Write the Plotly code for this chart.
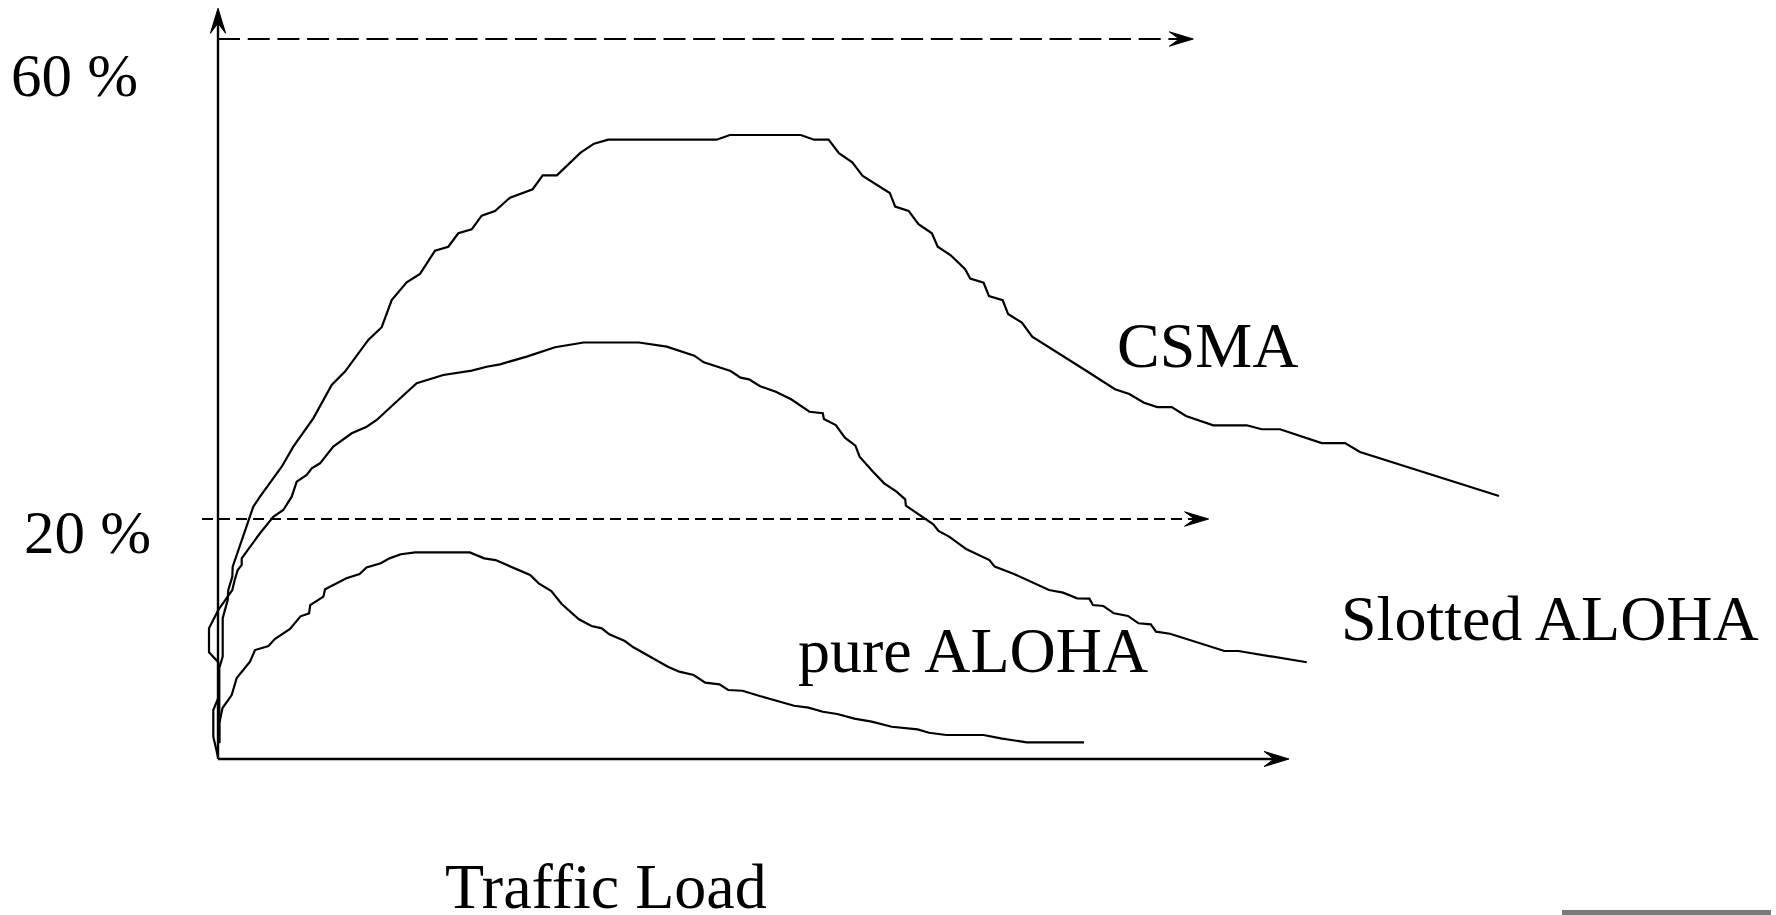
import plotly.graph_objects as go

# ---------------- data (x: traffic load, arbitrary units; y: throughput %) ----------------
csma_load = [0.013, 0.013, 0.047, 0.047, 0.097, 0.103, 0.143, 0.147, 0.353, 0.42, 0.637, 0.753,
             0.953, 1.137, 1.27, 1.503, 1.637, 1.737, 1.887, 2.02, 2.17, 2.303, 2.403, 2.537,
             2.637, 2.77, 2.92, 3.147, 3.247, 3.389, 3.626, 3.76, 3.902, 4.985, 5.119, 5.827,
             5.961, 6.106, 6.209, 6.343, 6.447, 6.718, 6.772, 6.906, 7.005, 7.139, 7.197, 7.327,
             7.472, 7.522, 7.656, 7.71, 7.847, 7.901, 8.039, 8.142, 8.67, 8.97, 9.113, 9.26,
             9.393, 9.537, 9.68, 9.953, 10.287, 10.437, 10.62, 11.037, 11.27, 11.42, 12.81]
csma_thru = [1.33, 7.58, 8.53, 11.73, 13.25, 14.08, 15.19, 16.03, 21.03, 21.86, 24.36, 26.03,
             28.39, 31.17, 32.28, 34.92, 35.98, 38.25, 39.72, 40.42, 42.36, 42.69, 43.81, 44.14,
             45.28, 45.67, 46.78, 47.48, 48.64, 48.64, 50.53, 51.28, 51.61, 51.61, 52.0, 52.0,
             51.61, 51.61, 50.48, 49.73, 48.58, 47.17, 46.03, 45.67, 44.56, 43.81, 42.69, 41.98,
             40.81, 40.03, 39.69, 38.58, 38.23, 37.08, 36.36, 35.19, 32.42, 30.81, 30.42, 29.69,
             29.33, 29.33, 28.58, 27.81, 27.81, 27.48, 27.48, 26.33, 26.33, 25.58, 21.92]

slotted_load = [0.003, -0.047, -0.047, 0.003, 0.003, -0.09, -0.09, 0.003, 0.097, 0.143, 0.167,
                0.197, 0.237, 0.237, 0.42, 0.553, 0.653, 0.737, 0.787, 0.887, 0.937, 1.02, 1.153,
                1.337, 1.487, 1.587, 1.803, 1.987, 2.253, 2.537, 2.687, 2.82, 3.087, 3.37, 3.655,
                4.21, 4.487, 4.763, 4.858, 5.126, 5.226, 5.31, 5.417, 5.578, 5.731, 5.876, 5.915,
                6.048, 6.059, 6.178, 6.269, 6.374, 6.416, 6.55, 6.662, 6.785, 6.872, 6.879, 7.03,
                7.153, 7.205, 7.311, 7.486, 7.714, 7.767, 7.96, 8.31, 8.451, 8.591, 8.714, 8.749,
                8.854, 8.959, 9.1, 9.205, 9.328, 9.38, 9.52, 10.064, 10.204, 10.888]
slotted_thru = [0.06, 1.86, 4.08, 5.08, 8.06, 8.89, 10.89, 12.42, 13.53, 14.08, 14.92,
                15.75, 16.17, 16.73, 18.81, 20.19, 20.75, 21.86, 23.11, 23.67, 24.23, 24.64, 26.03,
                27.14, 27.69, 28.25, 29.92, 31.31, 32.0, 32.36, 32.69, 32.89, 33.53, 34.31, 34.71,
                34.71, 34.36, 33.61, 33.06, 32.33, 31.78, 31.64, 31.08, 30.61, 29.98, 29.17, 28.94,
                28.81, 28.33, 27.83, 26.78, 26.11, 25.19, 23.94, 22.97, 22.28, 21.64, 21.11, 20.28,
                19.56, 19.0, 18.53, 17.47, 16.58, 16.03, 15.42, 14.08, 13.86, 13.39, 13.36, 12.83,
                12.75, 12.14, 11.92, 11.31, 11.22, 10.61, 10.44, 9.0, 9.0, 8.06]

pure_load = [0.013, 0.013, 0.045, 0.137, 0.187, 0.32, 0.37, 0.505, 0.568, 0.72, 0.825, 0.911,
             0.922, 1.054, 1.071, 1.284, 1.416, 1.485, 1.628, 1.714, 1.829, 1.973, 2.518, 2.662,
             2.776, 2.92, 3.121, 3.207, 3.333, 3.437, 3.609, 3.735, 3.838, 3.913, 4.068, 4.154,
             4.326, 4.499, 4.613, 4.757, 4.872, 5.015, 5.101, 5.245, 5.417, 5.761, 5.905, 6.048,
             6.192, 6.364, 6.536, 6.737, 6.996, 7.11, 7.283, 7.656, 7.828, 8.086, 8.66]
pure_thru = [1.31, 2.97, 4.25, 5.33, 6.75, 8.11, 9.08, 9.42, 10.0, 10.83, 11.89, 12.14,
             12.83, 13.53, 14.14, 15.06, 15.42, 15.97, 16.31, 16.72, 17.06, 17.22, 17.22, 16.72,
             16.58, 16.03, 15.33, 14.64, 14.0, 12.92, 11.64, 11.08, 10.89, 10.39, 9.83, 9.31,
             8.53, 7.69, 7.28, 7.0, 6.36, 6.22, 5.75, 5.69, 5.25, 4.44, 4.28, 3.94,
             3.75, 3.36, 3.11, 2.69, 2.47, 2.19, 2.0, 2.0, 1.72, 1.39, 1.39]

ref_levels = [60, 20]                 # dashed reference levels (%)
ref_labels = ["60 %", "20 %"]
ref_line_ends = [(0.0, 9.753), (-0.16, 9.906)]
x_axis_end = 10.71
y_axis_end = 62.56
x_title = "Traffic Load"
series_labels = ["CSMA", "Slotted ALOHA", "pure ALOHA"]

# ---------------- layout / styling ----------------
W, H = 1776, 915
X_RANGE = [-2.18, 15.58]
Y_RANGE = [-13.0, 63.25]
FONT = "Liberation Serif, Times New Roman, serif"
FS = 64
FS_PCT = 61
INK = "black"

fig = go.Figure()
for xs, ys in [(csma_load, csma_thru), (slotted_load, slotted_thru), (pure_load, pure_thru)]:
    fig.add_trace(go.Scatter(x=xs, y=ys, mode="lines",
                             line=dict(color=INK, width=2.2),
                             hoverinfo="skip", showlegend=False))

shapes = []
# axes
shapes.append(dict(type="line", xref="x", yref="y", x0=0, y0=0, x1=x_axis_end - 0.12, y1=0,
                   line=dict(color=INK, width=2.4)))
shapes.append(dict(type="line", xref="x", yref="y", x0=0, y0=0, x1=0, y1=y_axis_end - 1.2,
                   line=dict(color=INK, width=2.4)))

def arrow_h(xa, ya, L=25, hw=7.6, notch=15):
    return dict(type="path", xref="x", yref="y", xsizemode="pixel", ysizemode="pixel",
                xanchor=xa, yanchor=ya,
                path=f"M0,0 L{-L},{hw} L{-notch},0 L{-L},{-hw} Z",
                fillcolor=INK, line=dict(color=INK, width=1))

def arrow_v(xa, ya, L=25, hw=7.6, notch=15):
    return dict(type="path", xref="x", yref="y", xsizemode="pixel", ysizemode="pixel",
                xanchor=xa, yanchor=ya,
                path=f"M0,0 L{hw},{-L} L0,{-notch} L{-hw},{-L} Z",
                fillcolor=INK, line=dict(color=INK, width=1))

shapes.append(arrow_h(x_axis_end, 0))
shapes.append(arrow_v(0, y_axis_end))

# dashed reference lines
dashes = ["22px,7.7px", "11px,6px"]
for lvl, (xa, xb), d in zip(ref_levels, ref_line_ends, dashes):
    shapes.append(dict(type="line", xref="x", yref="y", x0=xa, y0=lvl, x1=xb - 0.12, y1=lvl,
                       line=dict(color=INK, width=2.2, dash=d)))
    shapes.append(arrow_h(xb, lvl, L=24, hw=7.2, notch=14))

# grey bar at the bottom-right of the picture
shapes.append(dict(type="rect", xref="paper", yref="paper",
                   x0=1562 / W, x1=1771 / W, y0=0, y1=5 / H,
                   fillcolor="#7a7a7a", line=dict(width=0)))

annotations = []
label_pos = {
    "60 %": (-2.094, 56.99),
    "20 %": (-1.957, 18.91),
    "CSMA": (8.97, 34.47),
    "Slotted ALOHA": (11.21, 11.72),
    "pure ALOHA": (5.78, 9.05),
    "Traffic Load": (2.25, -10.6),
}
for txt in ref_labels + series_labels + [x_title]:
    x, y = label_pos[txt]
    size = FS_PCT if txt in ref_labels else FS
    annotations.append(dict(text=txt, x=x, y=y, xref="x", yref="y",
                            xanchor="left", yanchor="middle", showarrow=False,
                            font=dict(family=FONT, size=size, color=INK)))

fig.update_layout(
    width=W, height=H,
    margin=dict(l=0, r=0, t=0, b=0, pad=0),
    paper_bgcolor="white", plot_bgcolor="white",
    xaxis=dict(range=X_RANGE, visible=False, fixedrange=True),
    yaxis=dict(range=Y_RANGE, visible=False, fixedrange=True),
    shapes=shapes, annotations=annotations,
    showlegend=False,
)

fig.write_html("out.html", config={"displayModeBar": False},
               post_script="document.body.style.margin='0';document.body.style.overflow='hidden';")
